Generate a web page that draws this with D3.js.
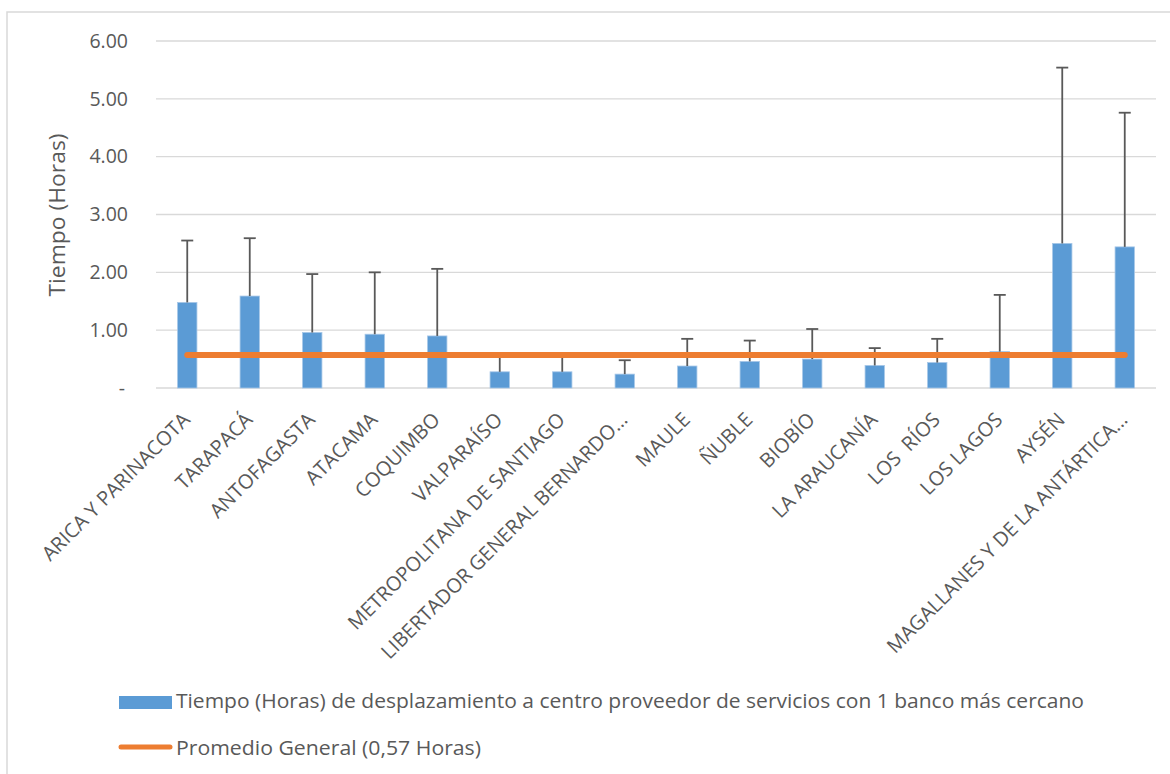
<!DOCTYPE html>
<html>
<head>
<meta charset="utf-8">
<script src="https://cdn.jsdelivr.net/npm/d3@7"></script>
<style>
  html, body { margin: 0; padding: 0; background: #fff; }
  svg { display: block; }
  text { font-family: "Open Sans", Lato, sans-serif; fill: #595959; }
</style>
</head>
<body>
<svg id="chart" width="1170" height="774"></svg>
<script>
// Regions of Chile
const categories = [
  "ARICA Y PARINACOTA", "TARAPACÁ", "ANTOFAGASTA", "ATACAMA", "COQUIMBO",
  "VALPARAÍSO", "METROPOLITANA DE SANTIAGO", "LIBERTADOR GENERAL BERNARDO…",
  "MAULE", "ÑUBLE", "BIOBÍO", "LA ARAUCANÍA", "LOS  RÍOS", "LOS LAGOS",
  "AYSÉN", "MAGALLANES Y DE LA ANTÁRTICA…"
];
// Travel time (hours) to the nearest service centre with one bank
const tiempo = [1.48, 1.59, 0.96, 0.93, 0.90, 0.28, 0.28, 0.24, 0.38, 0.46, 0.50, 0.39, 0.44, 0.63, 2.50, 2.44];
// Positive error amount (hours)
const desviacion = [1.07, 1.00, 1.01, 1.07, 1.16, 0.27, 0.27, 0.24, 0.47, 0.36, 0.52, 0.30, 0.41, 0.98, 3.04, 2.32];
// Overall average (hours)
const promedio = [0.57, 0.57, 0.57, 0.57, 0.57, 0.57, 0.57, 0.57, 0.57, 0.57, 0.57, 0.57, 0.57, 0.57, 0.57, 0.57];
const yTicks = [0, 1, 2, 3, 4, 5, 6];
const seriesNames = [
  "Tiempo (Horas) de desplazamiento a centro proveedor de servicios con 1 banco más cercano",
  "Promedio General (0,57 Horas)"
];
const axisTitle = "Tiempo (Horas)";

const svg = d3.select("#chart");
const plot = { left: 156, right: 1156, top: 41, bottom: 388 };

// Outer chart frame
svg.append("rect")
  .attr("x", 7).attr("y", 12).attr("width", 1200).attr("height", 800)
  .attr("fill", "none").attr("stroke", "#d9d9d9").attr("stroke-width", 1.5);

const x = d3.scaleBand().domain(categories)
  .range([plot.left, plot.right]).paddingInner(0.69).paddingOuter(0.345);
const y = d3.scaleLinear().domain([0, 6]).range([plot.bottom, plot.top]);

// Gridlines
svg.append("g").selectAll("line").data(yTicks).join("line")
  .attr("x1", plot.left).attr("x2", plot.right)
  .attr("y1", d => y(d)).attr("y2", d => y(d))
  .attr("stroke", "#d9d9d9").attr("stroke-width", 1.3);

// Y axis labels
const yAxis = d3.axisLeft(y).tickValues(yTicks)
  .tickFormat(d => d === 0 ? "-" : d3.format(".2f")(d))
  .tickSize(0).tickPadding(0);
const yg = svg.append("g").attr("transform", `translate(128,0)`).call(yAxis);
yg.select(".domain").remove();
yg.selectAll("text").attr("font-size", 19.5).attr("fill", "#595959")
  .style("font-family", "'Open Sans', sans-serif");
yg.selectAll(".tick").filter(d => d === 0).select("text").attr("dx", -3);

// Y axis title
svg.append("text")
  .attr("transform", `translate(65,215) rotate(-90)`)
  .attr("text-anchor", "middle").attr("font-size", 21)
  .attr("textLength", 163).attr("lengthAdjust", "spacingAndGlyphs")
  .text(axisTitle);

// Bars
svg.append("g").selectAll("rect").data(categories).join("rect")
  .attr("x", d => x(d)).attr("width", x.bandwidth())
  .attr("y", (d, i) => y(tiempo[i]))
  .attr("height", (d, i) => y(0) - y(tiempo[i]))
  .attr("fill", "#5b9bd5").attr("stroke", "#a7c7e8").attr("stroke-width", 0.8);

// Error bars (plus direction)
const eb = svg.append("g").attr("stroke", "#595959").attr("stroke-width", 1.8);
categories.forEach((c, i) => {
  const cx = x(c) + x.bandwidth() / 2;
  const top = y(tiempo[i] + desviacion[i]);
  eb.append("line").attr("x1", cx).attr("x2", cx)
    .attr("y1", y(tiempo[i])).attr("y2", top);
  eb.append("line").attr("x1", cx - 6).attr("x2", cx + 6)
    .attr("y1", top).attr("y2", top);
});

// Average line
const line = d3.line()
  .x((d, i) => x(categories[i]) + x.bandwidth() / 2)
  .y(d => y(d));
svg.append("path").datum(promedio)
  .attr("d", line).attr("fill", "none")
  .attr("stroke", "#ed7d31").attr("stroke-width", 6).attr("stroke-linecap", "round");

// Category labels, rotated
svg.append("g").selectAll("text").data(categories).join("text")
  .attr("transform", d => `translate(${x(d) + x.bandwidth() / 2 + 4},421) rotate(-45)`)
  .attr("text-anchor", "end").attr("font-size", 20)
  .style("white-space", "pre")
  .text(d => d);

// Legend
const lg = svg.append("g");
lg.append("rect").attr("x", 119).attr("y", 696).attr("width", 53).attr("height", 13)
  .attr("fill", "#5b9bd5");
lg.append("text").attr("x", 176).attr("y", 708).attr("font-size", 19.5)
  .attr("textLength", 908).attr("lengthAdjust", "spacingAndGlyphs")
  .text(seriesNames[0]);
lg.append("line").attr("x1", 121).attr("x2", 170).attr("y1", 747).attr("y2", 747)
  .attr("stroke", "#ed7d31").attr("stroke-width", 5).attr("stroke-linecap", "round");
lg.append("text").attr("x", 176).attr("y", 755).attr("font-size", 19.5)
  .attr("textLength", 305).attr("lengthAdjust", "spacingAndGlyphs")
  .text(seriesNames[1]);
</script>
</body>
</html>
